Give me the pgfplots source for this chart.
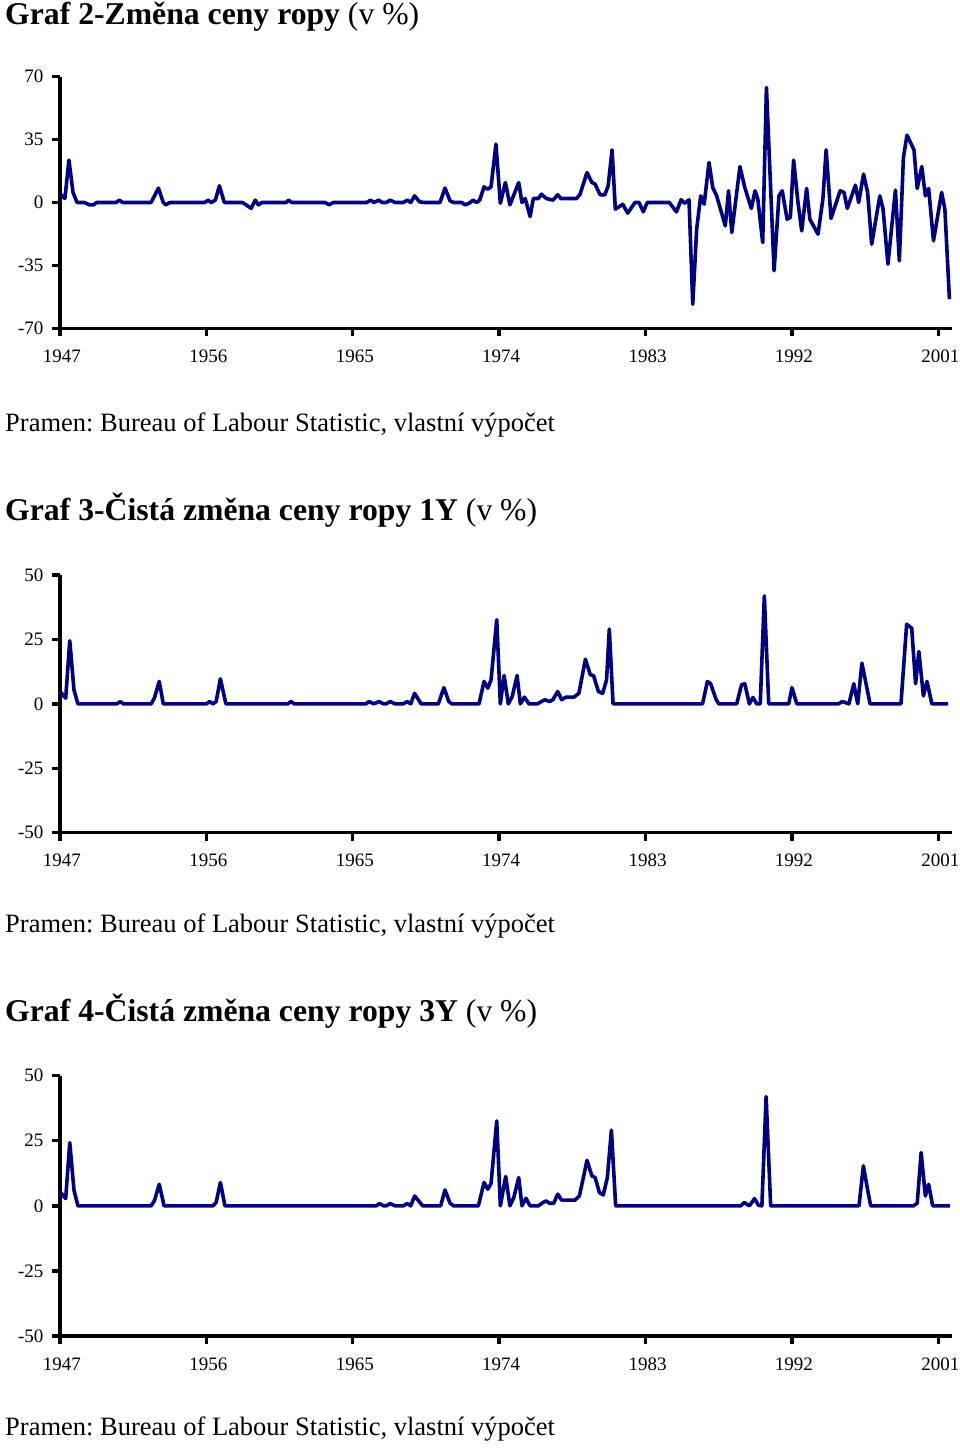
\documentclass[border=0pt]{standalone}
\usepackage{fontspec}
\setmainfont{Liberation Serif}
\usepackage{pgfplots}
\pgfplotsset{compat=1.18}
\definecolor{navy}{RGB}{0,0,128}
\frenchspacing

\pgfplotsset{
  panel/.style={
    scale only axis,
    width=891.7pt,
    xmin=1947, xmax=2001.82,
    axis lines=left,
    axis line style={-, line width=3.4pt, black},
    tick align=outside,
    major tick length=8pt,
    tick style={line width=3.4pt, black},
    xtick={1947,1956,...,2001},
    x tick label style={/pgf/number format/1000 sep={}, yshift=-10pt, xshift=2pt},
    y tick label style={xshift=-5pt},
    /pgf/number format/assume math mode=true,
    tick label style={font=\fontsize{19}{22}\selectfont},
    clip=false,
  },
  ropa/.style={navy, line width=3.6pt, line join=round, no markers},
}

\begin{document}
\begin{tikzpicture}
\useasboundingbox (0,0) rectangle (960pt,-1448pt);

\node[anchor=base west, inner sep=0pt, font=\fontsize{31.7}{38}\selectfont] at (5pt,-24pt)
  {\textbf{Graf 2-Změna ceny ropy} (v \%)};
\node[anchor=base west, inner sep=0pt, font=\fontsize{26.5}{32}\selectfont] at (5pt,-431.7pt)
  {Pramen: Bureau of Labour Statistic, vlastní výpočet};
\node[anchor=base west, inner sep=0pt, font=\fontsize{31.7}{38}\selectfont] at (5pt,-520.7pt)
  {\textbf{Graf 3-Čistá změna ceny ropy 1Y} (v \%)};
\node[anchor=base west, inner sep=0pt, font=\fontsize{26.5}{32}\selectfont] at (5pt,-932.7pt)
  {Pramen: Bureau of Labour Statistic, vlastní výpočet};
\node[anchor=base west, inner sep=0pt, font=\fontsize{31.7}{38}\selectfont] at (5pt,-1021.7pt)
  {\textbf{Graf 4-Čistá změna ceny ropy 3Y} (v \%)};
\node[anchor=base west, inner sep=0pt, font=\fontsize{26.5}{32}\selectfont] at (5pt,-1435.7pt)
  {Pramen: Bureau of Labour Statistic, vlastní výpočet};

% Graf 2
\begin{axis}[panel, at={(60pt,-328.3pt)}, anchor=south west,
  height=251.6pt, ymin=-70, ymax=70, ytick={-70,-35,0,35,70}]
\addplot[ropa] coordinates {
(1947.0,5) (1947.3,2.2) (1947.55,23.6) (1947.8,5.6) (1948.05,0) (1948.5,0)
(1948.8,-1.3) (1949.05,-1.3) (1949.25,0) (1950.45,0) (1950.65,1.3) (1950.85,0)
(1952.6,0) (1953.05,8) (1953.35,0) (1953.5,-1.3) (1953.75,0) (1955.9,0)
(1956.1,1.3) (1956.3,0) (1956.55,1.3) (1956.8,9.3) (1957.1,0) (1958.2,0)
(1958.4,-1) (1958.75,-3.3) (1959.0,1.3) (1959.2,-1.3) (1959.4,0) (1960.9,0)
(1961.05,1.3) (1961.25,0) (1963.3,0) (1963.55,-1.3) (1963.8,0) (1965.85,0)
(1966.1,1.3) (1966.3,0) (1966.6,1.3) (1966.8,0) (1967.05,0) (1967.3,1.3)
(1967.6,0) (1968.1,0) (1968.35,1.3) (1968.56,0) (1968.8,3.7) (1969.1,0.4)
(1969.4,0) (1970.36,0) (1970.67,8.0) (1970.98,0.9) (1971.2,0) (1971.7,0)
(1971.9,-1.3) (1972.15,-0.4) (1972.4,1.3) (1972.6,0) (1972.8,1.3) (1973.07,8.7)
(1973.3,7.4) (1973.5,8.7) (1973.8,32.5) (1974.07,-0.4) (1974.38,11.1) (1974.66,-1.3)
(1975.2,11.1) (1975.4,0) (1975.6,2.2) (1975.9,-7.8) (1976.1,2.2) (1976.4,2.2)
(1976.6,4.6) (1976.9,2.2) (1977.3,1.3) (1977.6,4.3) (1977.8,2.2) (1978.76,2.2)
(1978.97,4.6) (1979.4,16.7) (1979.7,11.1) (1979.9,10.2) (1980.2,4.3) (1980.5,4.3)
(1980.7,9.3) (1980.94,29.3) (1981.14,-3.7) (1981.6,-1) (1981.9,-5.9) (1982.35,0)
(1982.6,0) (1982.86,-5.2) (1983.1,0) (1984.46,0) (1984.9,-5.2) (1985.18,1.5)
(1985.4,-0.4) (1985.67,1.5) (1985.9,-56.6) (1986.14,-14.8) (1986.39,3.7) (1986.6,-0.9)
(1986.9,22.3) (1987.13,8.3) (1987.37,3.7) (1987.9,-13) (1988.1,6.5) (1988.3,-16.7)
(1988.8,20) (1989.1,8.3) (1989.5,-3.3) (1989.73,6.5) (1989.9,1.9) (1990.2,-22.3)
(1990.43,64) (1990.9,-38) (1991.2,3.7) (1991.4,6.5) (1991.7,-9.3) (1991.9,-8.3)
(1992.1,23.6) (1992.37,0) (1992.6,-15.8) (1992.9,7.8) (1993.1,-9.3) (1993.6,-17.6)
(1993.9,1.9) (1994.1,29.3) (1994.4,-8.9) (1994.96,6.5) (1995.2,5.6) (1995.4,-3.3)
(1995.9,9.6) (1996.1,0) (1996.4,15.8) (1996.65,5.6) (1996.9,-23.2) (1997.4,3.7)
(1997.6,-3.7) (1997.9,-34.3) (1998.36,6.9) (1998.6,-32.5) (1998.85,25) (1999.07,37.5)
(1999.5,29.3) (1999.7,7.8) (1999.98,20) (2000.2,3.7) (2000.4,7.8) (2000.7,-21.3)
(2001.2,5.6) (2001.4,-3.7) (2001.68,-53.8)
};
\end{axis}

% Graf 3
\begin{axis}[panel, at={(60pt,-832.7pt)}, anchor=south west,
  height=257.7pt, ymin=-50, ymax=50, ytick={-50,-25,0,25,50}]
\addplot[ropa] coordinates {
(1947.0,4.8) (1947.35,2.2) (1947.6,24.5) (1947.86,5.4) (1948.1,0) (1950.5,0)
(1950.7,0.9) (1950.9,0) (1952.6,0) (1952.8,2.2) (1953.1,8.7) (1953.35,0)
(1956.0,0) (1956.2,0.9) (1956.4,0) (1956.6,0.9) (1956.86,9.7) (1957.2,0)
(1961.0,0) (1961.2,0.9) (1961.4,0) (1965.8,0) (1966.0,0.9) (1966.3,0)
(1966.6,0.9) (1966.9,0) (1967.05,0) (1967.3,0.9) (1967.6,0) (1968.1,0)
(1968.35,0.9) (1968.56,0) (1968.8,4.1) (1969.2,0) (1970.26,0) (1970.6,6.3)
(1970.9,0.9) (1971.1,0) (1972.76,0) (1973.07,8.7) (1973.3,6.1) (1973.5,9.3)
(1973.85,32.6) (1974.07,0) (1974.3,11) (1974.56,0) (1974.8,2.8) (1975.1,11)
(1975.3,0) (1975.55,2.6) (1975.83,0) (1976.35,0) (1976.8,1.6) (1977.1,0.9)
(1977.3,1.6) (1977.6,4.8) (1977.84,1.6) (1978.1,2.6) (1978.6,2.6) (1978.9,4.1)
(1979.3,17.3) (1979.6,11.3) (1979.8,11) (1980.1,4.8) (1980.36,4.1) (1980.6,9.3)
(1980.77,29) (1981.0,0) (1986.5,0) (1986.8,8.7) (1987.0,7.8) (1987.33,1.8)
(1987.5,0) (1988.6,0) (1988.9,7.4) (1989.1,7.8) (1989.38,0) (1989.6,2.5)
(1989.83,0) (1990.05,0) (1990.3,41.9) (1990.57,0) (1991.8,0) (1992.0,6.3)
(1992.3,0) (1994.85,0) (1995.1,0.9) (1995.5,0) (1995.8,7.8) (1996.04,0)
(1996.3,15.8) (1996.8,0) (1998.7,0) (1999.05,30.9) (1999.36,29.4) (1999.6,7.8)
(1999.8,20.3) (2000.08,3.1) (2000.3,8.7) (2000.6,0) (2001.6,0)
};
\end{axis}

% Graf 4
\begin{axis}[panel, at={(60pt,-1336pt)}, anchor=south west,
  height=260.3pt, ymin=-50, ymax=50, ytick={-50,-25,0,25,50}]
\addplot[ropa] coordinates {
(1947.0,5.4) (1947.35,2.8) (1947.6,24.3) (1947.86,6.0) (1948.1,0) (1952.6,0)
(1952.8,1.9) (1953.1,8.3) (1953.4,0) (1956.4,0) (1956.6,1.3) (1956.86,9)
(1957.14,0) (1966.43,0) (1966.63,0.9) (1966.9,0) (1967.05,0) (1967.3,0.9)
(1967.6,0) (1968.1,0) (1968.35,0.9) (1968.56,0) (1968.8,3.8) (1969.3,0)
(1970.4,0) (1970.67,6.1) (1970.98,1) (1971.2,0) (1972.72,0) (1973.07,9)
(1973.3,6.4) (1973.5,8.6) (1973.85,32.6) (1974.07,0) (1974.4,11.3) (1974.66,0)
(1974.9,3.2) (1975.2,10.9) (1975.4,0) (1975.65,2.9) (1975.9,0) (1976.4,0)
(1976.7,1.3) (1976.88,1.9) (1977.1,1) (1977.35,1) (1977.6,4.5) (1977.84,2.2)
(1978.66,2.2) (1978.93,3.8) (1979.4,17.5) (1979.7,11.5) (1979.9,10.9) (1980.16,5.1)
(1980.4,4.2) (1980.65,10.9) (1980.9,29.1) (1981.16,0) (1988.85,0) (1989.07,1.3)
(1989.38,0) (1989.7,2.8) (1989.93,0.3) (1990.15,0) (1990.41,42) (1990.69,0)
(1996.12,0) (1996.39,15.4) (1996.66,5.8) (1996.84,0) (1999.46,0) (1999.7,1)
(1999.94,20.5) (2000.2,3.8) (2000.4,8.3) (2000.65,0) (2001.72,0)
};
\end{axis}
\end{tikzpicture}
\end{document}
